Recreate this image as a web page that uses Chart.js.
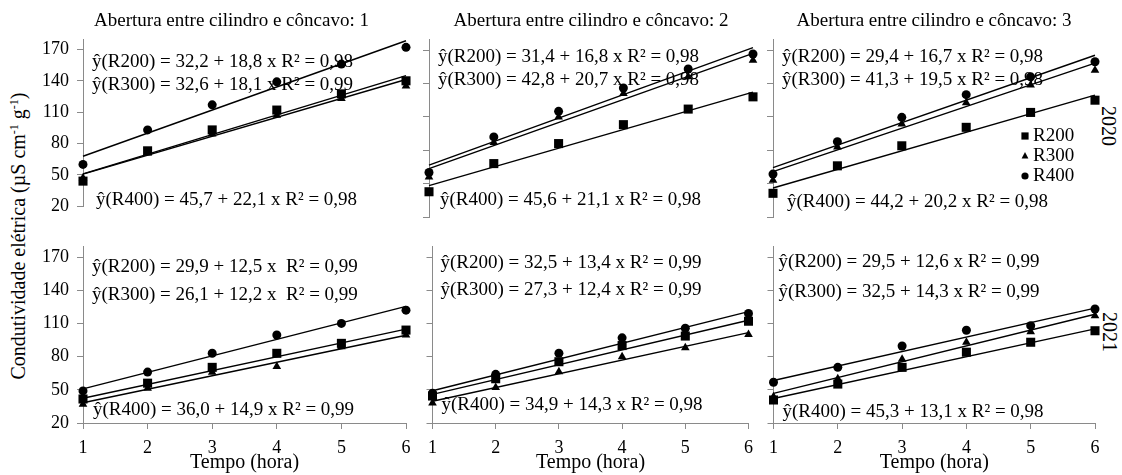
<!DOCTYPE html>
<html><head><meta charset="utf-8">
<script src="https://cdn.jsdelivr.net/npm/chart.js@4.4.1/dist/chart.umd.min.js"></script>
<style>
html,body{margin:0;padding:0;background:#fff;}
#wrap{position:relative;width:1122px;height:475px;overflow:hidden;font-family:"Liberation Serif","Times New Roman",serif;color:#000;}
.rot{position:absolute;white-space:nowrap;line-height:1;}
.rot sup{font-size:0.6em;vertical-align:0.55em;line-height:0;}
</style></head><body>
<div id="wrap">
  <div class="rot" id="ytitle" style="left:18px;top:236px;font-size:20px;transform:translate(-50%,-50%) rotate(-90deg);">Condutividade elétrica (µS cm<sup>-1</sup> g<sup>-1</sup>)</div>
  <div class="rot" id="yr0" style="left:1109px;top:126px;font-size:20px;transform:translate(-50%,-50%) rotate(90deg);"></div>
  <div class="rot" id="yr1" style="left:1110px;top:332px;font-size:20px;transform:translate(-50%,-50%) rotate(90deg);"></div>
</div>
<script>
// ---------------- DATA ----------------
const hours = [1, 2, 3, 4, 5, 6];
const xTicks = [1, 2, 3, 4, 5, 6];
const yTicks = [20, 50, 80, 110, 140, 170];
const fitHours = [1, 6];
const seriesNames = ['R200', 'R300', 'R400'];
const yearLabels = ['2020', '2021'];
const panelTitles = ['Abertura entre cilindro e côncavo: 1', 'Abertura entre cilindro e côncavo: 2', 'Abertura entre cilindro e côncavo: 3'];
const xTitle = 'Tempo (hora)';

// 2020, abertura 1
const r200_2020_a1 = [44, 73, 93, 112, 127.5, 140];
const r300_2020_a1 = [47, 71, 89, 107, 123, 135];
const r400_2020_a1 = [60, 93, 117, 139, 156, 172];
const fitR200_2020_a1 = [51.0, 145.0];
const fitR300_2020_a1 = [50.7, 141.2];
const fitR400_2020_a1 = [67.8, 178.3];
const eq_2020_a1 = ['ŷ(R200) = 32,2 + 18,8 x R² = 0,98', 'ŷ(R300) = 32,6 + 18,1 x R² = 0,99', 'ŷ(R400) = 45,7 + 22,1 x R² = 0,98'];

// 2020, abertura 2
const r200_2020_a2 = [42.7, 68, 86, 103, 117, 128];
const r300_2020_a2 = [56, 87, 110, 131, 146, 161];
const r400_2020_a2 = [60, 92, 115, 136, 153, 166.5];
const fitR200_2020_a2 = [48.2, 132.2];
const fitR300_2020_a2 = [63.5, 167.0];
const fitR400_2020_a2 = [66.7, 172.2];
const eq_2020_a2 = ['ŷ(R200) = 31,4 + 16,8 x R² = 0,98', 'ŷ(R300) = 42,8 + 20,7 x R² = 0,98', 'ŷ(R400) = 45,6 + 21,1 x R² = 0,98'];

// 2020, abertura 3
const r200_2020_a3 = [41.3, 66, 84, 100.6, 114, 125];
const r300_2020_a3 = [53, 83, 103.6, 122.7, 138.6, 152];
const r400_2020_a3 = [58.6, 87.7, 109.6, 130, 146, 159.5];
const fitR200_2020_a3 = [46.1, 129.6];
const fitR300_2020_a3 = [60.8, 158.3];
const fitR400_2020_a3 = [64.4, 165.4];
const eq_2020_a3 = ['ŷ(R200) = 29,4 + 16,7 x R² = 0,98', 'ŷ(R300) = 41,3 + 19,5 x R² = 0,98', 'ŷ(R400) = 44,2 + 20,2 x R² = 0,98'];

// 2021, abertura 1
const r200_2021_a1 = [41.7, 56, 70.3, 83, 92, 104];
const r300_2021_a1 = [37, 51.4, 65.8, 71, 89, 99.5];
const r400_2021_a1 = [49, 66, 83, 99.5, 110, 122];
const fitR200_2021_a1 = [42.4, 104.9];
const fitR300_2021_a1 = [38.3, 99.3];
const fitR400_2021_a1 = [50.9, 125.4];
const eq_2021_a1 = ['ŷ(R200) = 29,9 + 12,5 x  R² = 0,99', 'ŷ(R300) = 26,1 + 12,2 x  R² = 0,99', 'ŷ(R400) = 36,0 + 14,9 x R² = 0,99'];

// 2021, abertura 2
const r200_2021_a2 = [44.4, 60, 75.4, 90, 98.6, 112];
const r300_2021_a2 = [38, 52, 66.3, 80, 88, 100];
const r400_2021_a2 = [47, 64, 83, 97, 105.6, 119];
const fitR200_2021_a2 = [45.9, 112.9];
const fitR300_2021_a2 = [39.7, 101.7];
const fitR400_2021_a2 = [49.2, 120.7];
const eq_2021_a2 = ['ŷ(R200) = 32,5 + 13,4 x R² = 0,99', 'ŷ(R300) = 27,3 + 12,4 x R² = 0,99', 'ŷ(R400) = 34,9 + 14,3 x R² = 0,98'];

// 2021, abertura 3
const r200_2021_a3 = [40.8, 55.2, 70.3, 84, 93, 103.4];
const r300_2021_a3 = [43.8, 60, 77.6, 93, 102.5, 117];
const r400_2021_a3 = [56.8, 70.3, 89.6, 103.8, 108, 123];
const fitR200_2021_a3 = [42.1, 105.1];
const fitR300_2021_a3 = [46.8, 118.3];
const fitR400_2021_a3 = [58.4, 123.9];
const eq_2021_a3 = ['ŷ(R200) = 29,5 + 12,6 x R² = 0,99', 'ŷ(R300) = 32,5 + 14,3 x R² = 0,99', 'ŷ(R400) = 45,3 + 13,1 x R² = 0,98'];

// ---------------- PANELS ----------------
const panels = [
  {row:0, col:0, pts:[r200_2020_a1, r300_2020_a1, r400_2020_a1], fits:[fitR200_2020_a1, fitR300_2020_a1, fitR400_2020_a1], eqs:eq_2020_a1},
  {row:0, col:1, pts:[r200_2020_a2, r300_2020_a2, r400_2020_a2], fits:[fitR200_2020_a2, fitR300_2020_a2, fitR400_2020_a2], eqs:eq_2020_a2},
  {row:0, col:2, pts:[r200_2020_a3, r300_2020_a3, r400_2020_a3], fits:[fitR200_2020_a3, fitR300_2020_a3, fitR400_2020_a3], eqs:eq_2020_a3},
  {row:1, col:0, pts:[r200_2021_a1, r300_2021_a1, r400_2021_a1], fits:[fitR200_2021_a1, fitR300_2021_a1, fitR400_2021_a1], eqs:eq_2021_a1},
  {row:1, col:1, pts:[r200_2021_a2, r300_2021_a2, r400_2021_a2], fits:[fitR200_2021_a2, fitR300_2021_a2, fitR400_2021_a2], eqs:eq_2021_a2},
  {row:1, col:2, pts:[r200_2021_a3, r300_2021_a3, r400_2021_a3], fits:[fitR200_2021_a3, fitR300_2021_a3, fitR400_2021_a3], eqs:eq_2021_a3}
];

// ---------------- LAYOUT / STYLE ----------------
const FONT = '"Liberation Serif", "Times New Roman", serif';
const AXIS_GREY = '#8a8a8a';
const colLayout = [
  {left:30,  yW:53, plotW:323, padR:14, showY:true,  titleDx:-13},
  {left:420, yW:9,  plotW:324, padR:8,  showY:false, titleDx:0},
  {left:761, yW:12, plotW:322, padR:15, showY:false, titleDx:0}
];
const rowLayout = [
  {top:0,   height:225, padTop:39, padBottom:8, xH:0,  showX:false},
  {top:225, height:250, padTop:21, padBottom:0, xH:52, showX:true}
];
const eqOffsets = [
  [[9,23],[9,46],[13,161]],
  [[9,18],[9,41],[11,161]],
  [[9,18],[9,41],[14,163]],
  [[9,21],[9,49],[10,164]],
  [[8,17],[8,44],[9,159]],
  [[5,16],[5,46],[9,166]]
];
const markerStyles = [
  {pointStyle:'rect', radius:6.4},
  {pointStyle:'triangle', radius:5},
  {pointStyle:'circle', radius:4.5}
];

document.getElementById('yr0').textContent = yearLabels[0];
document.getElementById('yr1').textContent = yearLabels[1];

function drawMarker(ctx, style, x, y, s) {
  ctx.beginPath();
  if (style === 'rect') { ctx.rect(x - s, y - s, 2*s, 2*s); }
  else if (style === 'triangle') { ctx.moveTo(x, y - s*1.15); ctx.lineTo(x + s, y + s*0.7); ctx.lineTo(x - s, y + s*0.7); ctx.closePath(); }
  else { ctx.arc(x, y, s, 0, Math.PI*2); }
  ctx.fill();
}

const textPlugin = {
  id: 'panelText',
  beforeDatasetsDraw(chart, args, o) {
    const ctx = chart.ctx, ca = chart.chartArea;
    ctx.save();
    ctx.fillStyle = '#000';
    ctx.textBaseline = 'middle';
    ctx.textAlign = 'left';
    ctx.font = '19px ' + FONT;
    o.eqs.forEach((t, k) => {
      ctx.fillText(t, ca.left + o.offsets[k][0], ca.top + o.offsets[k][1]);
    });
    if (o.title) {
      ctx.textAlign = 'center';
      ctx.font = '19px ' + FONT;
      ctx.fillText(o.title, (ca.left + ca.right)/2 + o.titleDx, 21);
    }
    if (o.legend) {
      ctx.textAlign = 'left';
      ctx.font = '19px ' + FONT;
      const ys = [97, 117, 137];
      const sizes = [3.6, 3.4, 3.6];
      markerStyles.forEach((m, k) => {
        drawMarker(ctx, m.pointStyle, ca.left + 252, ca.top + ys[k], sizes[k]);
        ctx.fillText(seriesNames[k], ca.left + 260, ca.top + ys[k]);
      });
    }
    ctx.restore();
  }
};

const wrap = document.getElementById('wrap');
panels.forEach((p, i) => {
  const cl = colLayout[p.col], rl = rowLayout[p.row];
  const w = cl.yW + cl.plotW + cl.padR;
  const canvas = document.createElement('canvas');
  canvas.width = w; canvas.height = rl.height;
  canvas.style.cssText = `position:absolute;left:${cl.left}px;top:${rl.top}px;width:${w}px;height:${rl.height}px;`;
  wrap.appendChild(canvas);

  const datasets = [];
  p.fits.forEach((f, k) => {
    datasets.push({
      type:'line', label: seriesNames[k] + ' fit',
      data: fitHours.map((h, j) => ({x:h, y:f[j]})),
      borderColor:'#000', borderWidth:1.4, pointRadius:0, fill:false, clip:false, order:2, tension:0
    });
  });
  p.pts.forEach((arr, k) => {
    datasets.push({
      type:'scatter', label: seriesNames[k],
      data: hours.map((h, j) => ({x:h, y:arr[j]})),
      pointStyle: markerStyles[k].pointStyle, pointRadius: markerStyles[k].radius,
      backgroundColor:'#000', borderColor:'#000', borderWidth:0, clip:false, order:0
    });
  });

  new Chart(canvas, {
    type:'scatter',
    data:{datasets},
    plugins:[textPlugin],
    options:{
      responsive:false, animation:false, devicePixelRatio:1,
      layout:{padding:{top:rl.padTop, bottom:rl.padBottom, left:0, right:cl.padR}},
      plugins:{
        legend:{display:false}, tooltip:{enabled:false},
        panelText:{eqs:p.eqs, offsets:eqOffsets[i], title: p.row === 0 ? panelTitles[p.col] : null, titleDx: cl.titleDx, legend: (p.row === 0 && p.col === 2)}
      },
      scales:{
        x:{
          type:'linear', min:1, max:6, display: rl.showX,
          afterBuildTicks: ax => { ax.ticks = xTicks.map(v => ({value:v})); },
          afterFit: ax => { ax.height = rl.xH; },
          grid:{drawOnChartArea:false, drawTicks:true, tickLength:6, color:AXIS_GREY, lineWidth:1},
          border:{display:true, color:AXIS_GREY, width:1},
          ticks:{color:'#000', font:{family:FONT, size:18}, padding:8, maxRotation:0, autoSkip:false, callback: v => String(v)},
          title:{display:true, text:xTitle, color:'#000', font:{family:FONT, size:20}, padding:{top:0, bottom:0}}
        },
        y:{
          type:'linear', min:20, max:180,
          afterBuildTicks: ax => { ax.ticks = yTicks.map(v => ({value:v})); },
          afterFit: ax => { ax.width = cl.yW; },
          grid:{drawOnChartArea:false, drawTicks:true, tickLength:6, color:AXIS_GREY, lineWidth:1},
          border:{display:true, color:AXIS_GREY, width:1},
          ticks:{display: cl.showY, color:'#000', font:{family:FONT, size:18}, padding:8, callback: v => String(v)}
        }
      }
    }
  });
});
</script>
</body></html>
